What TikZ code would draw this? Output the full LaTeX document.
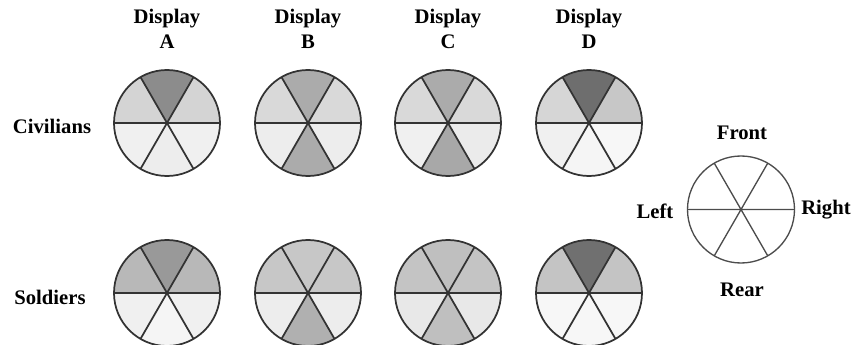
\documentclass[tikz,border=0pt]{standalone}
\usepackage{fontspec}
\setmainfont{Liberation Serif}
\newcommand\mypie[8]{%
  \begin{scope}[shift={(#1,#2)}]
    \fill[fill=#3] (0,0) -- (60:53) arc[start angle=60,end angle=120,radius=53] -- cycle;
    \fill[fill=#4] (0,0) -- (120:53) arc[start angle=120,end angle=180,radius=53] -- cycle;
    \fill[fill=#5] (0,0) -- (180:53) arc[start angle=180,end angle=240,radius=53] -- cycle;
    \fill[fill=#6] (0,0) -- (240:53) arc[start angle=240,end angle=300,radius=53] -- cycle;
    \fill[fill=#7] (0,0) -- (300:53) arc[start angle=300,end angle=360,radius=53] -- cycle;
    \fill[fill=#8] (0,0) -- (0:53) arc[start angle=0,end angle=60,radius=53] -- cycle;
    \draw[pieline] (180:53) -- (0:53) (120:53) -- (300:53) (60:53) -- (240:53);
    \draw[pieline] (0,0) circle[radius=53];
  \end{scope}}
\begin{document}
\begin{tikzpicture}[x=0.75pt,y=0.75pt,
  pieline/.style={draw=black!80,line width=1.3pt},
  lbl/.style={font=\fontsize{15.5}{17}\selectfont\bfseries,inner sep=0pt}]
\useasboundingbox (0,0) rectangle (854,-345);
% headers
\foreach \cx/\L/\n in {167/A/a,308/B/b,448/C/c,589/D/d}{
  \node[lbl] (disp\n) at (\cx,-19) {Display};
  \node[lbl] (let\n) at (\cx,-42) {\L};
}
\node[lbl] (civ) at (52,-126) {Civilians};
\node[lbl] (sol) at (50,-297) {Soldiers};
% civilians row: top, ul, ll, bottom, lr, ur
\mypie{167}{-123}{black!45}{black!17}{black!6}{black!7}{black!6}{black!17}
\mypie{308}{-123}{black!33}{black!15}{black!7}{black!33}{black!7}{black!15}
\mypie{448}{-123}{black!33}{black!15}{black!6}{black!34}{black!8}{black!15}
\mypie{589}{-123}{black!57}{black!16}{black!6}{black!4}{black!3}{black!22}
% soldiers row
\mypie{167}{-293}{black!40}{black!28}{black!6}{black!4}{black!6}{black!28}
\mypie{308}{-293}{black!22}{black!22}{black!7}{black!31}{black!7}{black!22}
\mypie{448}{-293}{black!25}{black!23}{black!9}{black!25}{black!9}{black!23}
\mypie{589}{-293}{black!56}{black!23}{black!3}{black!3}{black!3}{black!23}
% legend
\begin{scope}[shift={(741,-209.5)}]
  \draw[draw=black!70,line width=1pt] (0,0) circle[radius=53.5];
  \draw[draw=black!70,line width=1pt] (180:53.5) -- (0:53.5) (120:53.5) -- (300:53.5) (60:53.5) -- (240:53.5);
\end{scope}
\node[lbl] (front) at (742,-133) {Front};
\node[lbl] (rear) at (742,-290) {Rear};
\node[lbl] (left) at (655,-211.5) {Left};
\node[lbl] (right) at (826,-210) {Right};
\end{tikzpicture}
\end{document}
